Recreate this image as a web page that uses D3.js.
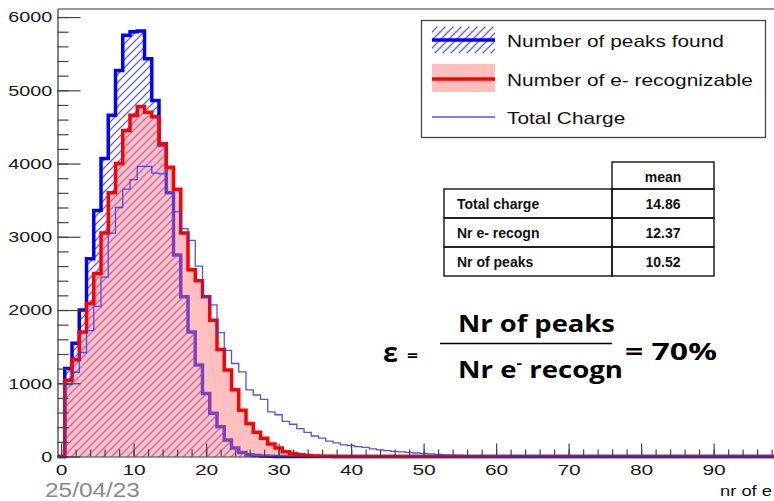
<!DOCTYPE html>
<html>
<head>
<meta charset="utf-8">
<script src="https://cdn.jsdelivr.net/npm/d3@7"></script>
<style>
  body { margin: 0; background: #fff; }
  svg { display: block; }
</style>
</head>
<body>
<svg width="774" height="501"></svg>
<script>
// counts per bin, bin k is centred on k (bin 0 first)
let picos = [0, 1200, 1545, 2000, 2700, 3360, 4070, 4660, 5270, 5750, 5800, 5810, 5430, 4860, 4250,
    3600, 2750, 2180, 1700, 1250, 860, 590, 405, 225, 115, 55, 25, 12, 6, 3, 1];

let eletrons = [0, 1040, 1320, 1700, 2090, 2500, 3050, 3600, 4000, 4450, 4660, 4780, 4700, 4640, 4270,
    3950, 3650, 3050, 2550, 2400, 2180, 1860, 1460, 1180, 910, 630, 450, 330, 250, 170,
    116, 66, 40, 25, 15, 8, 4, 2, 1];

let carga = [0, 980, 1150, 1420, 1720, 2050, 2450, 3050, 3400, 3650, 3780, 3960, 3960, 3870, 3860,
    3600, 3340, 3110, 2950, 2600, 2180, 2070, 1690, 1450, 1270, 1155, 910, 840, 780, 610,
    570, 480, 440, 380, 330, 280, 250, 210, 185, 160, 150, 135, 125, 105, 90,
    80, 70, 64, 55, 48, 42, 35, 27, 22, 18, 14, 10, 8, 6, 4,
    3, 2, 1];

let y_ticks = [0, 1000, 2000, 3000, 4000, 5000, 6000];
let x_ticks = [0, 10, 20, 30, 40, 50, 60, 70, 80, 90];

let legenda = ["Number of peaks found", "Number of e- recognizable", "Total Charge"];

let tabela_nomes = ["Total charge", "Nr e- recogn", "Nr of peaks"];
let tabela_medias = ["14.86", "12.37", "10.52"];

let $svg = d3.select("svg");

let x = d3.scaleLinear().domain([-0.5, 99.5]).range([57.5, 782.5]);
let y = d3.scaleLinear().domain([0, 6110]).range([456.5, 9]);

let defs = $svg.append("defs");

defs.append("pattern")
    .attr("id", "hachura")
    .attr("patternUnits", "userSpaceOnUse")
    .attr("width", 8)
    .attr("height", 8)
  .append("path")
    .attr("d", "M-2,2 L2,-2 M0,8 L8,0 M6,10 L10,6")
    .attr("stroke", "#5f5fff")
    .attr("stroke-width", 1.3);

defs.append("clipPath")
    .attr("id", "quadro")
  .append("rect")
    .attr("x", 57.5)
    .attr("y", 9)
    .attr("width", 720)
    .attr("height", 452);

function caminho(valores) {
    let pts = [[x(-0.5), y(0)]];
    valores.forEach((v, k) => {
        pts.push([x(k - 0.5), y(v)]);
        pts.push([x(k + 0.5), y(v)]);
    });
    pts.push([x(valores.length - 0.5), y(0)]);
    pts.push([x(99.5), y(0)]);
    return d3.line()(pts);
}

let $hist = $svg.append("g").attr("clip-path", "url(#quadro)");

// peaks found: hatched, thick blue
$hist.append("path")
    .attr("d", caminho(picos))
    .attr("fill", "url(#hachura)");
$hist.append("path")
    .attr("d", caminho(picos))
    .attr("fill", "none")
    .attr("stroke", "#0000ff")
    .attr("stroke-width", 3.5);

// e- recognizable: pink, thick red
$hist.append("path")
    .attr("d", caminho(eletrons))
    .attr("fill", "#ff8080")
    .attr("fill-opacity", 0.5);
$hist.append("path")
    .attr("d", caminho(eletrons))
    .attr("fill", "none")
    .attr("stroke", "#ff0000")
    .attr("stroke-width", 3.5);

// total charge: thin blue
$hist.append("path")
    .attr("d", caminho(carga))
    .attr("fill", "none")
    .attr("stroke", "#3535f0")
    .attr("stroke-opacity", 0.85)
    .attr("stroke-width", 1.3);

// frame top
$svg.append("line")
    .attr("x1", 57.5).attr("x2", 774)
    .attr("y1", 9).attr("y2", 9)
    .attr("stroke", "#333")
    .attr("stroke-width", 1.2);

// axes
let fonte_eixo = "'Liberation Sans', Arial, sans-serif";

let $y_minor = $svg.append("g")
    .attr("transform", `translate(${x(-0.5)},0)`)
    .call(d3.axisLeft(y).tickValues(d3.range(0, 6001, 200)).tickSizeInner(-11).tickSizeOuter(0).tickFormat(""));
$y_minor.select(".domain").remove();

let $y_axis = $svg.append("g")
    .attr("transform", `translate(${x(-0.5)},0)`)
    .call(d3.axisLeft(y).tickValues(y_ticks).tickSizeInner(-23).tickSizeOuter(0).tickPadding(4).tickFormat(d3.format("d")));

let $x_minor = $svg.append("g")
    .attr("transform", `translate(0,${y(0)})`)
    .call(d3.axisBottom(x).tickValues(d3.range(0, 100, 2)).tickSizeInner(-7).tickSizeOuter(0).tickFormat(""));
$x_minor.select(".domain").remove();

let $x_axis = $svg.append("g")
    .attr("transform", `translate(0,${y(0)})`)
    .call(d3.axisBottom(x).tickValues(x_ticks).tickSizeInner(-13).tickSizeOuter(0).tickPadding(9));

$svg.selectAll(".tick line").attr("stroke", "#444").attr("stroke-width", 1.2);
$svg.selectAll(".domain").attr("stroke", "#333").attr("stroke-width", 1.2);

$svg.selectAll(".tick text")
    .attr("font-family", fonte_eixo)
    .attr("fill", "#1a1a1a");
$y_axis.selectAll(".tick text")
    .attr("font-size", 15)
    .attr("transform", "scale(1.32,1)");
$x_axis.selectAll(".tick text")
    .attr("font-size", 14)
    .attr("transform", "scale(1.5,1)");

// stretched free text
function escreve(str, px, py, largura, estilo) {
    let t = $svg.append("g")
        .attr("transform", `translate(${px},${py})`)
      .append("text")
        .attr("font-family", estilo.familia || fonte_eixo)
        .attr("font-size", estilo.tamanho)
        .attr("font-weight", estilo.peso || "normal")
        .attr("fill", estilo.cor || "#111")
        .text(str);
    if (largura) {
        let w0 = t.node().getComputedTextLength();
        t.attr("transform", `scale(${largura / w0},1)`);
    }
    return t;
}

// legend
$svg.append("rect")
    .attr("x", 421.5).attr("y", 20.5)
    .attr("width", 344).attr("height", 117)
    .attr("fill", "#fff")
    .attr("stroke", "#444")
    .attr("stroke-width", 1.3);

let leg_y = [40, 79, 117];

$svg.append("rect")
    .attr("x", 432).attr("y", 27)
    .attr("width", 63).attr("height", 26)
    .attr("fill", "url(#hachura)");
$svg.append("line")
    .attr("x1", 432).attr("x2", 495)
    .attr("y1", leg_y[0]).attr("y2", leg_y[0])
    .attr("stroke", "#0000ff").attr("stroke-width", 3.5);

$svg.append("rect")
    .attr("x", 432).attr("y", 64)
    .attr("width", 63).attr("height", 28)
    .attr("fill", "#ff8080").attr("fill-opacity", 0.5);
$svg.append("line")
    .attr("x1", 432).attr("x2", 495)
    .attr("y1", leg_y[1]).attr("y2", leg_y[1])
    .attr("stroke", "#ff0000").attr("stroke-width", 3.5);

$svg.append("line")
    .attr("x1", 432).attr("x2", 495)
    .attr("y1", leg_y[2]).attr("y2", leg_y[2])
    .attr("stroke", "#3535f0").attr("stroke-opacity", 0.85).attr("stroke-width", 1.3);

legenda.forEach((s, i) => {
    let t = escreve(s, 507, leg_y[i] + 6.5, null, {tamanho: 16.3});
    t.attr("transform", "scale(1.28,1)");
});

// table of means
let tab = $svg.append("g")
    .attr("font-family", fonte_eixo)
    .attr("font-size", 14)
    .attr("font-weight", "bold")
    .attr("fill", "#111");

tab.append("rect")
    .attr("x", 612).attr("y", 162)
    .attr("width", 102).attr("height", 27)
    .attr("fill", "none").attr("stroke", "#111").attr("stroke-width", 1.4);
tab.append("text")
    .attr("x", 663).attr("y", 182)
    .attr("text-anchor", "middle")
    .text("mean");

tabela_nomes.forEach((nome, i) => {
    let topo = 189 + i * 29;
    tab.append("rect")
        .attr("x", 444).attr("y", topo)
        .attr("width", 168).attr("height", 29)
        .attr("fill", "none").attr("stroke", "#111").attr("stroke-width", 1.4);
    tab.append("rect")
        .attr("x", 612).attr("y", topo)
        .attr("width", 102).attr("height", 29)
        .attr("fill", "none").attr("stroke", "#111").attr("stroke-width", 1.4);
    tab.append("text")
        .attr("x", 457).attr("y", topo + 20)
        .text(nome);
    tab.append("text")
        .attr("x", 663).attr("y", topo + 20)
        .attr("text-anchor", "middle")
        .text(tabela_medias[i]);
});

// efficiency formula
let formula = {familia: "'Open Sans', sans-serif", peso: "bold", cor: "#000"};

escreve("ε", 383, 362, 15, Object.assign({tamanho: 26}, formula));
escreve("=", 407, 361, 11, Object.assign({tamanho: 16}, formula));
escreve("Nr of peaks", 458, 331.5, 157, Object.assign({tamanho: 24}, formula));

$svg.append("line")
    .attr("x1", 440).attr("x2", 612)
    .attr("y1", 343.5).attr("y2", 343.5)
    .attr("stroke", "#000")
    .attr("stroke-width", 1.5);

let den = escreve("", 458, 378, null, Object.assign({tamanho: 24}, formula));
den.append("tspan").text("Nr e");
den.append("tspan").attr("dy", -10).attr("font-size", 15).text("-");
den.append("tspan").attr("dy", 10).text(" recogn");
den.attr("transform", `scale(${165 / den.node().getComputedTextLength()},1)`);

escreve("= 70%", 625, 360, 92, Object.assign({tamanho: 24}, formula));

// footer texts
escreve("25/04/23", 45, 497, 95, {tamanho: 20, cor: "#8a8a8a"});
escreve("nr of e", 720, 496, 52, {tamanho: 14});
</script>
</body>
</html>
